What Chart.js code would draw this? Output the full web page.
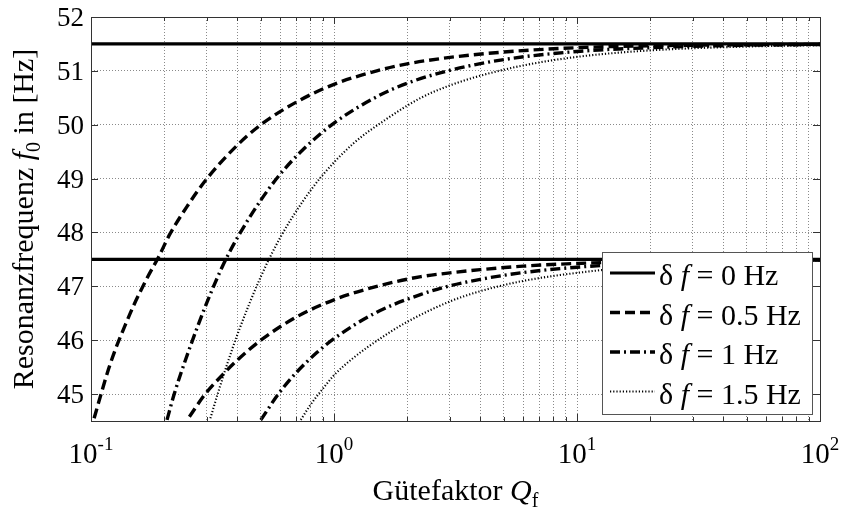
<!DOCTYPE html>
<html>
<head>
<meta charset="utf-8">
<script src="https://cdn.jsdelivr.net/npm/chart.js@4.4.0/dist/chart.umd.min.js"></script>
<style>
  html, body { margin: 0; padding: 0; background: #fff; }
  #chart { display: block; }
</style>
</head>
<body>
<canvas id="chart" width="841" height="520"></canvas>
<script>
// Q range of the plot and the two resonance limits for df = 0
const qRange = [0.1, 100];
const fLimits = [51.5, 47.5];

// df = 0.5 Hz, upper and lower branch
const qUp05 = [0.103, 0.11, 0.118, 0.127, 0.138, 0.15, 0.17, 0.19, 0.21, 0.25, 0.3, 0.4, 0.5, 0.7, 1.0, 1.5, 2.0, 3.0, 5.0, 10, 20, 50, 100];
const fUp05 = [44.55, 45.0, 45.46, 45.87, 46.27, 46.65, 47.15, 47.55, 47.95, 48.5, 49.0, 49.62, 50.0, 50.42, 50.75, 51.0, 51.13, 51.25, 51.35, 51.43, 51.465, 51.485, 51.493];
const qLo05 = [0.254, 0.295, 0.35, 0.4, 0.5, 0.7, 1.0, 1.5, 2.28, 3.0, 4.0, 6.0, 10, 20, 50, 100];
const fLo05 = [44.58, 45.0, 45.37, 45.63, 46.0, 46.43, 46.75, 47.0, 47.18, 47.25, 47.31, 47.375, 47.425, 47.463, 47.485, 47.493];

// df = 1 Hz
const qUp10 = [0.2055, 0.22, 0.25, 0.3, 0.35, 0.4, 0.5, 0.6, 0.75, 1.0, 1.5, 2.0, 3.0, 5.0, 10, 20, 50, 100];
const fUp10 = [44.52, 45.0, 45.75, 46.7, 47.4, 47.9, 48.6, 49.08, 49.55, 50.03, 50.52, 50.77, 51.01, 51.21, 51.36, 51.43, 51.475, 51.49];
const qLo10 = [0.5, 0.59, 0.7, 0.85, 1.0, 1.5, 2.28, 3.0, 4.0, 6.0, 10, 20, 50, 100];
const fLo10 = [44.52, 45.0, 45.4, 45.77, 46.03, 46.52, 46.85, 47.01, 47.13, 47.255, 47.355, 47.43, 47.47, 47.487];

// df = 1.5 Hz
const qUp15 = [0.31, 0.332, 0.36, 0.4, 0.5, 0.6, 0.75, 0.9, 1.2, 1.6, 2.28, 3.0, 4.0, 6.0, 10, 20, 50, 100];
const fUp15 = [44.55, 45.0, 45.5, 46.1, 47.18, 47.9, 48.6, 49.07, 49.65, 50.07, 50.5, 50.73, 50.91, 51.1, 51.26, 51.38, 51.452, 51.476];
const qLo15 = [0.73, 0.8, 0.9, 1.0, 1.2, 1.56, 2.0, 3.0, 4.0, 6.0, 10, 20, 50, 100];
const fLo15 = [44.52, 44.8, 45.1, 45.35, 45.67, 46.04, 46.34, 46.72, 46.91, 47.1, 47.25, 47.38, 47.45, 47.478];

// axes
const yRange = [44.5, 52];
const yTicks = [45, 46, 47, 48, 49, 50, 51, 52];
const xDecades = [-1, 0, 1, 2];
const legendLabels = ['0', '0.5', '1', '1.5'];

// grid positions on the log axis: 1..9 per decade
const xGrid = [];
for (let d = -1; d < 2; d++) {
  for (let m = 1; m < 10; m++) xGrid.push(m * Math.pow(10, d));
}
xGrid.push(100);

const SERIF = '"Liberation Serif", "Times New Roman", serif';
const lineStyles = [
  { width: 3.2, dash: [] },
  { width: 3.4, dash: [10, 5] },
  { width: 3.4, dash: [10, 4, 2, 4] },
  { width: 2.1, dash: [1.2, 2] }
];

function pts(qs, fs) {
  return qs.map((q, i) => ({ x: q, y: fs[i] }));
}

function makeSet(data, style) {
  return {
    data: data,
    borderColor: '#000',
    borderWidth: lineStyles[style].width,
    borderDash: lineStyles[style].dash,
    pointRadius: 0,
    fill: false,
    cubicInterpolationMode: 'monotone'
  };
}

const datasets = [
  makeSet([{ x: qRange[0], y: fLimits[0] }, { x: qRange[1], y: fLimits[0] }], 0),
  makeSet([{ x: qRange[0], y: fLimits[1] }, { x: qRange[1], y: fLimits[1] }], 0),
  makeSet(pts(qUp05, fUp05), 1),
  makeSet(pts(qLo05, fLo05), 1),
  makeSet(pts(qUp10, fUp10), 2),
  makeSet(pts(qLo10, fLo10), 2),
  makeSet(pts(qUp15, fUp15), 3),
  makeSet(pts(qLo15, fLo15), 3)
];

// draw text pieces one after another, each {t, font, dy}
function drawRuns(ctx, runs, x, y) {
  let cx = x;
  runs.forEach(r => {
    ctx.font = r.font;
    ctx.fillText(r.t, cx, y + (r.dy || 0));
    cx += ctx.measureText(r.t).width;
  });
  return cx - x;
}
function runsWidth(ctx, runs) {
  let w = 0;
  runs.forEach(r => { ctx.font = r.font; w += ctx.measureText(r.t).width; });
  return w;
}

// box, inner ticks, labels, titles and the legend
const frame = {
  id: 'frame',
  afterDatasetsDraw(chart) {
    const ctx = chart.ctx;
    const a = chart.chartArea;
    const xs = chart.scales.x, ys = chart.scales.y;
    ctx.save();

    // tick marks pointing inward on all four sides
    ctx.strokeStyle = '#333';
    ctx.lineWidth = 1;
    ctx.setLineDash([]);
    ctx.beginPath();
    xGrid.forEach(v => {
      const px = Math.round(xs.getPixelForValue(v)) + 0.5;
      const major = Math.abs(Math.log10(v) - Math.round(Math.log10(v))) < 1e-9;
      const len = major ? 7 : 4;
      ctx.moveTo(px, a.bottom); ctx.lineTo(px, a.bottom - len);
      ctx.moveTo(px, a.top); ctx.lineTo(px, a.top + len);
    });
    yTicks.forEach(v => {
      const py = Math.round(ys.getPixelForValue(v)) + 0.5;
      ctx.moveTo(a.left, py); ctx.lineTo(a.left + 7, py);
      ctx.moveTo(a.right, py); ctx.lineTo(a.right - 7, py);
    });
    ctx.stroke();

    // axes box
    ctx.strokeStyle = '#333';
    ctx.strokeRect(Math.round(a.left) + 0.5, Math.round(a.top) + 0.5,
                   Math.round(a.right - a.left), Math.round(a.bottom - a.top));

    ctx.fillStyle = '#000';
    ctx.textBaseline = 'alphabetic';

    // y tick labels
    ctx.font = '27px ' + SERIF;
    ctx.textAlign = 'right';
    yTicks.forEach(v => {
      ctx.fillText(String(v), a.left - 7, ys.getPixelForValue(v) + 9);
    });

    // x tick labels 10^n
    ctx.textAlign = 'left';
    xDecades.forEach(d => {
      const runs = [
        { t: '10', font: '29px ' + SERIF },
        { t: d < 0 ? '-' + (-d) : String(d), font: '19px ' + SERIF, dy: -13 }
      ];
      const w = runsWidth(ctx, runs);
      drawRuns(ctx, runs, xs.getPixelForValue(Math.pow(10, d)) - w / 2, a.bottom + 42);
    });

    // x axis title
    const xt = [
      { t: 'Gütefaktor ', font: '30px ' + SERIF },
      { t: 'Q', font: 'italic 30px ' + SERIF },
      { t: 'f', font: '20px ' + SERIF, dy: 7 }
    ];
    drawRuns(ctx, xt, (a.left + a.right) / 2 - runsWidth(ctx, xt) / 2, a.bottom + 79);

    // y axis title, rotated
    const yt = [
      { t: 'Resonanzfrequenz ', font: '30px ' + SERIF },
      { t: 'f', font: 'italic 30px ' + SERIF },
      { t: '0', font: '20px ' + SERIF, dy: 7 },
      { t: ' in [Hz]', font: '30px ' + SERIF }
    ];
    ctx.save();
    ctx.translate(33, (a.top + a.bottom) / 2);
    ctx.rotate(-Math.PI / 2);
    drawRuns(ctx, yt, -runsWidth(ctx, yt) / 2, 0);
    ctx.restore();

    // legend box in the lower right corner
    const bw = 210, bh = 162;
    const bx = a.right - 8 - bw, by = a.bottom - 7 - bh;
    ctx.fillStyle = '#fff';
    ctx.fillRect(bx, by, bw, bh);
    ctx.strokeStyle = '#555';
    ctx.lineWidth = 1;
    ctx.strokeRect(Math.round(bx) + 0.5, Math.round(by) + 0.5, bw, bh);

    legendLabels.forEach((lab, i) => {
      const ry = by + 21 + i * 39.5;
      const st = lineStyles[i];
      ctx.strokeStyle = '#000';
      ctx.lineWidth = st.width;
      ctx.setLineDash(st.dash);
      ctx.beginPath();
      ctx.moveTo(bx + 8, ry);
      ctx.lineTo(bx + 53, ry);
      ctx.stroke();
      ctx.setLineDash([]);
      ctx.fillStyle = '#000';
      drawRuns(ctx, [
        { t: 'δ ', font: '30px ' + SERIF },
        { t: 'f', font: 'italic 30px ' + SERIF },
        { t: ' = ' + lab + ' Hz', font: '30px ' + SERIF }
      ], bx + 57, ry + 12);
    });

    ctx.restore();
  }
};

const gridStyle = { color: '#8a8a8a', lineWidth: 1, drawTicks: false };

new Chart(document.getElementById('chart').getContext('2d'), {
  type: 'line',
  data: { datasets: datasets },
  options: {
    responsive: false,
    animation: false,
    devicePixelRatio: 1,
    parsing: false,
    layout: { padding: { left: 91, right: 21, top: 17, bottom: 99 }, autoPadding: false },
    plugins: { legend: { display: false }, tooltip: { enabled: false } },
    scales: {
      x: {
        type: 'logarithmic',
        min: qRange[0],
        max: qRange[1],
        afterBuildTicks: s => { s.ticks = xGrid.map(v => ({ value: v })); },
        ticks: { display: false },
        grid: gridStyle,
        border: { display: false, dash: [1, 2] }
      },
      y: {
        type: 'linear',
        min: yRange[0],
        max: yRange[1],
        afterBuildTicks: s => { s.ticks = yTicks.map(v => ({ value: v })); },
        ticks: { display: false },
        grid: gridStyle,
        border: { display: false, dash: [1, 2] }
      }
    }
  },
  plugins: [frame]
});
</script>
</body>
</html>
